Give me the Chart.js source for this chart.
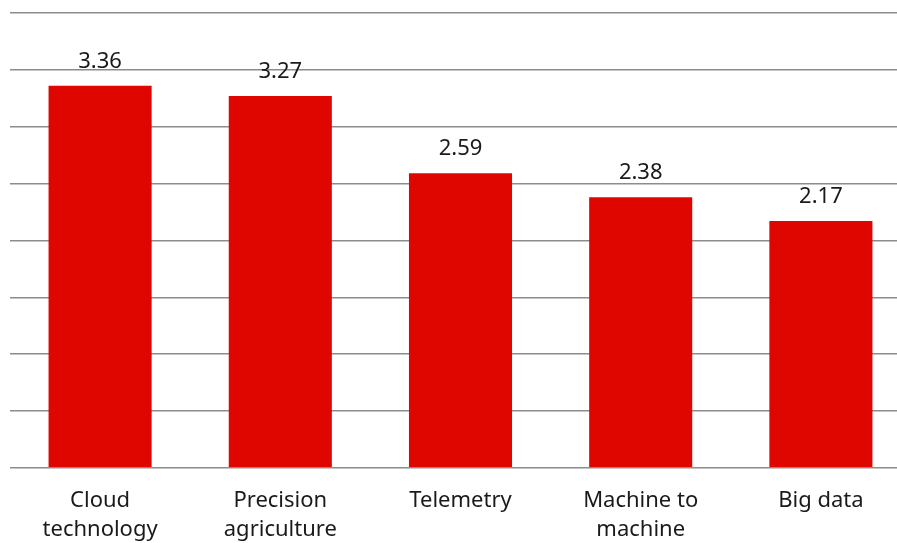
<!DOCTYPE html>
<html>
<head>
<meta charset="utf-8">
<script src="https://cdn.jsdelivr.net/npm/chart.js@4.4.0/dist/chart.umd.min.js"></script>
<style>
  html, body { margin: 0; padding: 0; background: #fff; overflow: hidden; }
  #wrap { width: 911px; height: 543px; }
</style>
</head>
<body>
<div id="wrap"><canvas id="c" width="911" height="543"></canvas></div>
<script>
const categories = [['Cloud', 'technology'], ['Precision', 'agriculture'], 'Telemetry', ['Machine to', 'machine'], 'Big data'];
const values = [3.36, 3.27, 2.59, 2.38, 2.17];

// draws the value above each bar
const valueLabels = {
  id: 'valueLabels',
  afterDatasetsDraw(chart) {
    const ctx = chart.ctx;
    const meta = chart.getDatasetMeta(0);
    ctx.save();
    ctx.font = '22px "Noto Sans"';
    ctx.fillStyle = '#1a1a1a';
    ctx.textAlign = 'center';
    ctx.textBaseline = 'alphabetic';
    meta.data.forEach((bar, i) => {
      ctx.fillText(values[i].toFixed(2), bar.x, bar.y - 18);
    });
    ctx.restore();
  }
};

new Chart(document.getElementById('c'), {
  type: 'bar',
  data: {
    labels: categories,
    datasets: [{
      data: values,
      backgroundColor: '#e00600',
      borderWidth: 0,
      categoryPercentage: 1,
      barPercentage: 0.572
    }]
  },
  options: {
    responsive: false,
    animation: false,
    layout: { padding: { left: 10, top: 13, right: 0, bottom: -12 } },
    plugins: { legend: { display: false }, tooltip: { enabled: false } },
    scales: {
      x: {
        grid: { display: false },
        border: { display: false },
        ticks: { color: '#1a1a1a', font: { family: 'Noto Sans', size: 22, lineHeight: 1.3 }, padding: 11, maxRotation: 0 }
      },
      y: {
        min: 0, max: 4,
        ticks: { display: false, stepSize: 0.5 },
        border: { display: false },
        grid: { color: '#8c8c8c', lineWidth: 1.5, drawTicks: false }
      }
    }
  },
  plugins: [valueLabels]
});
</script>
</body>
</html>
